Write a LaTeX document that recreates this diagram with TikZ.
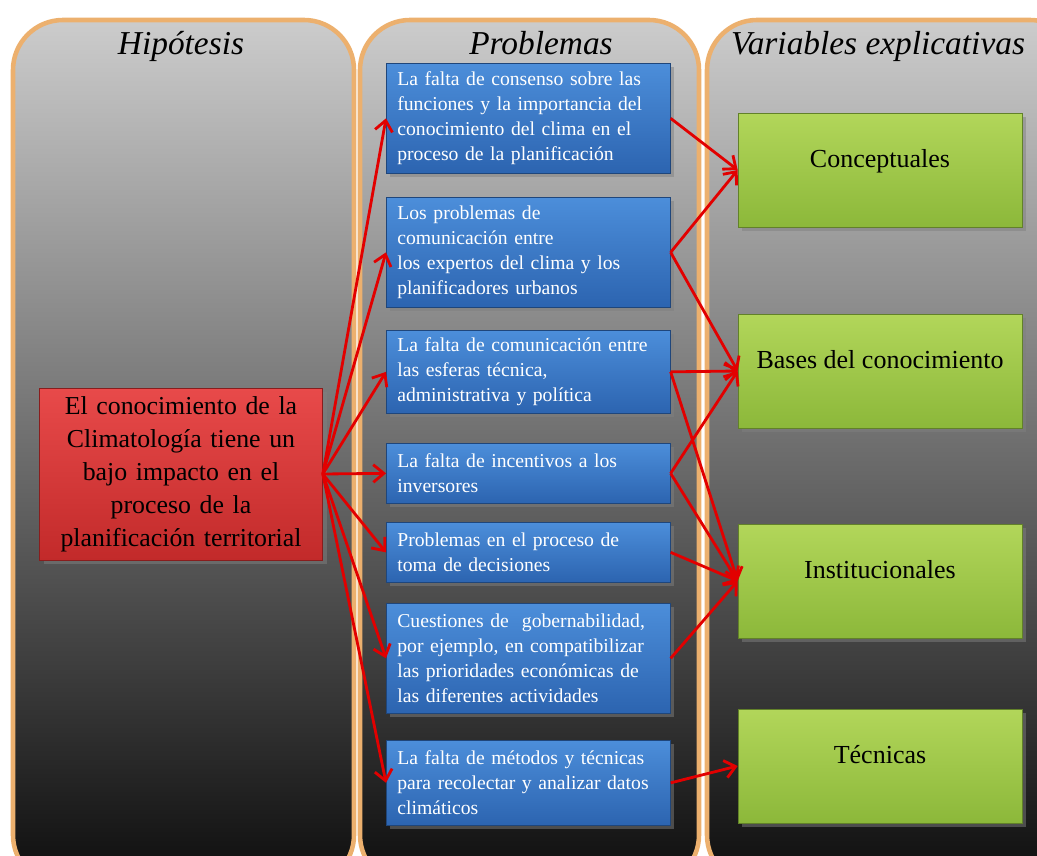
\documentclass[tikz,border=0pt]{standalone}
\usepackage{fontspec}
\setmainfont{Liberation Serif}
\usetikzlibrary{arrows.meta,shadows,positioning}

\definecolor{borde}{RGB}{236,176,110}
\definecolor{azulsup}{RGB}{76,142,218}
\definecolor{azulinf}{RGB}{44,100,176}
\definecolor{verdesup}{RGB}{178,214,90}
\definecolor{verdeinf}{RGB}{140,184,58}
\definecolor{rojosup}{RGB}{232,74,74}
\definecolor{rojoinf}{RGB}{194,42,42}
\definecolor{flecha}{RGB}{226,0,0}

\begin{document}
\begin{tikzpicture}[x=0.02cm,y=-0.02cm,
    columna/.style={rounded corners=1cm,draw=borde,line width=2.6pt,
      top color=black!20,middle color=black!62,bottom color=black!95},
    titulo/.style={anchor=base,font=\fontsize{19}{22}\selectfont\itshape},
    problema/.style={anchor=north west,draw=azulinf!70!black,thin,
      top color=azulsup,bottom color=azulinf,text=white,align=left,
      minimum width=5.68cm,text width=5.24cm,inner xsep=0.22cm,
      font=\fontsize{11.2}{14.2}\selectfont,drop shadow},
    explicativa/.style={draw=verdeinf!70!black,thin,top color=verdesup,
      bottom color=verdeinf,minimum width=5.68cm,minimum height=2.28cm,
      text height=0.35cm,text depth=0.45cm,
      font=\fontsize{14.8}{17}\selectfont,drop shadow},
    flechas/.style={draw=flecha,line width=1.6pt,
      -{Straight Barb[length=6pt,width=10pt]}}]
    \useasboundingbox (0,0) rectangle (1037,855);

    % columnas
    \shade[columna] (13,20) rectangle (354,885);
    \shade[columna] (360,20) rectangle (699,885);
    \shade[columna] (707,20) rectangle (1080,885);

    \node[titulo] (thip) at (181,55) {Hipótesis};
    \node[titulo] (tpro) at (541,55) {Problemas};
    \node[titulo] (tvar) at (878,55) {Variables explicativas};

    \node[draw=rojoinf!70!black,thin,top color=rojosup,bottom color=rojoinf,
      minimum width=5.66cm,minimum height=3.44cm,text width=5.4cm,align=center,
      font=\fontsize{14.7}{18.8}\selectfont,drop shadow] (hip) at (181,474)
      {El conocimiento de la\\ Climatología tiene un\\ bajo impacto en el\\
       proceso de la\\ planificación territorial};

    \node[problema,minimum height=2.2cm] (p1) at (386,63)
      {La falta de consenso sobre las\\ funciones y la importancia del\\
       conocimiento del clima en el\\ proceso de la planificación};
    \node[problema,minimum height=2.2cm] (p2) at (386,197)
      {Los problemas de\\ comunicación entre\\ los expertos del clima y los\\
       planificadores urbanos};
    \node[problema,minimum height=1.66cm] (p3) at (386,330)
      {La falta de comunicación entre\\ las esferas técnica,\\
       administrativa y política};
    \node[problema,minimum height=1.2cm] (p4) at (386,443)
      {La falta de incentivos a los\\ inversores};
    \node[problema,minimum height=1.2cm] (p5) at (386,522)
      {Problemas en el proceso de\\ toma de decisiones};
    \node[problema,minimum height=2.2cm] (p6) at (386,603)
      {Cuestiones de~ gobernabilidad,\\ por ejemplo, en compatibilizar\\
       las prioridades económicas de\\ las diferentes actividades};
    \node[problema,minimum height=1.7cm] (p7) at (386,740)
      {La falta de métodos y técnicas\\ para recolectar y analizar datos\\
       climáticos};

    \node[explicativa] (v1) at (880,170) {Conceptuales};
    \node[explicativa] (v2) at (880,371) {Bases del conocimiento};
    \node[explicativa] (v3) at (880,581) {Institucionales};
    \node[explicativa] (v4) at (880,766) {Técnicas};

    \foreach \p in {p1,p2,p3,p4,p5,p6,p7}
      \draw[flechas] (hip.east) -- (\p.west);

    \foreach \p/\v in {p1/v1,p2/v1,p2/v2,p3/v2,p3/v3,p4/v2,p4/v3,p5/v3,p6/v3,p7/v4}
      \draw[flechas] (\p.east) -- (\v.west);
  \end{tikzpicture}
\end{document}
